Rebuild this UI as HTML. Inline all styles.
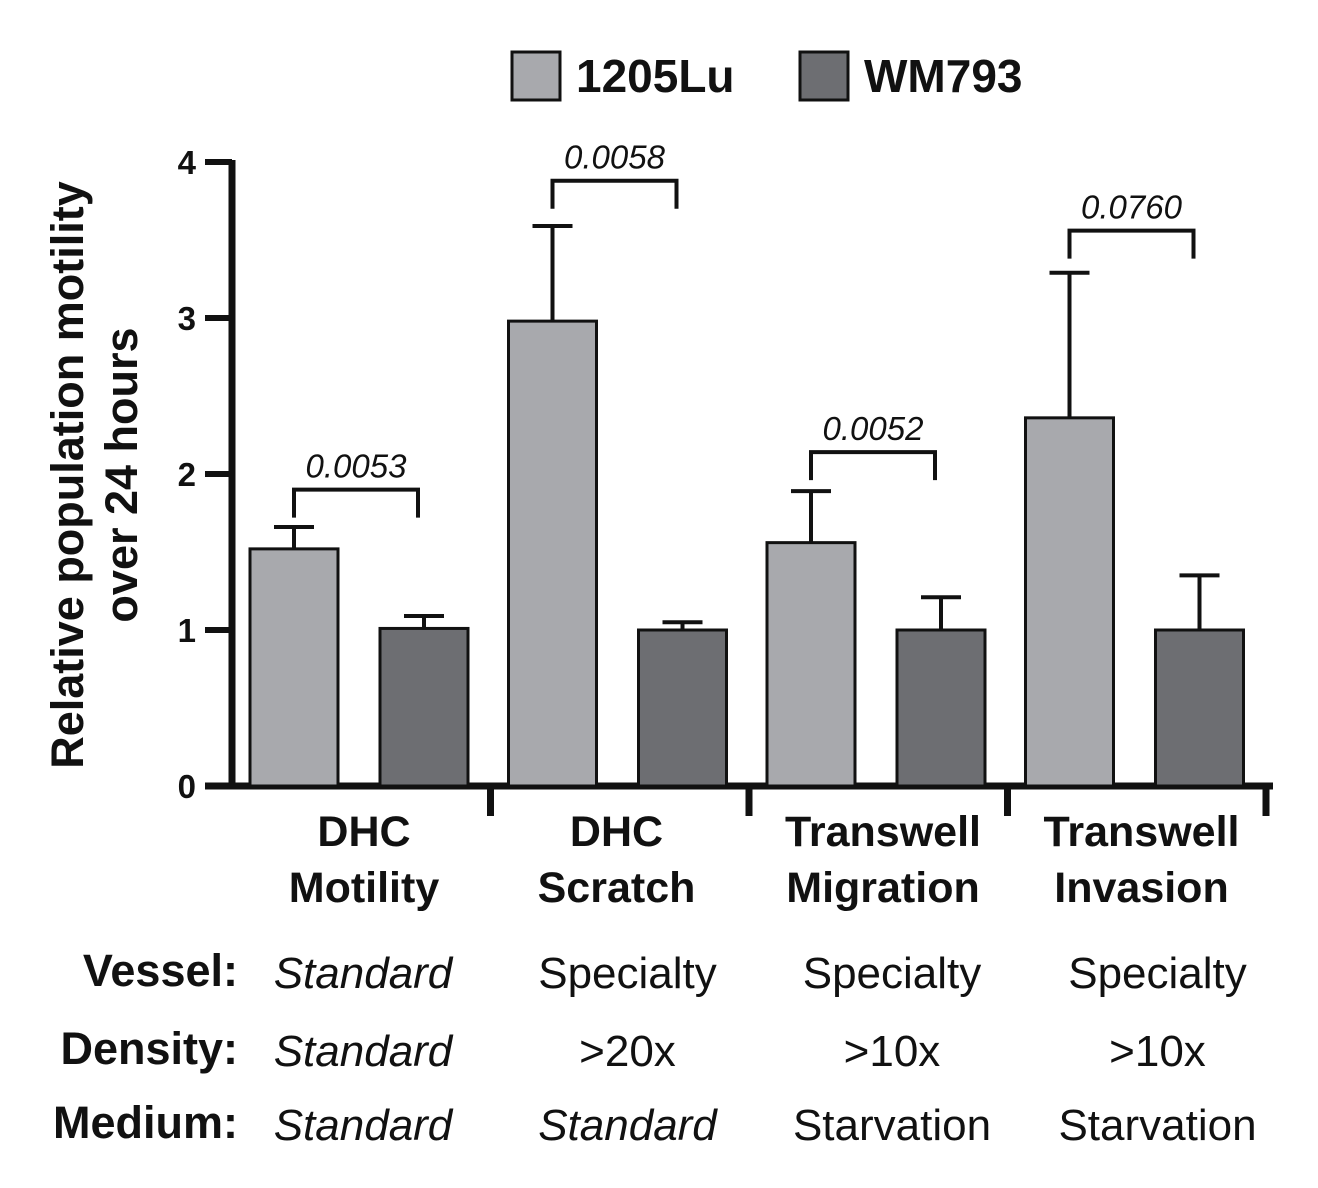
<!DOCTYPE html>
<html><head><meta charset="utf-8"><style>
html,body{margin:0;padding:0;background:#fff}
svg{display:block;font-family:"Liberation Sans",Arial,sans-serif}
</style></head><body>
<svg id="c" width="1318" height="1188" viewBox="0 0 1318 1188">
<g id="legend">
<rect x="512" y="52" width="48" height="48" fill="#a8a9ad" stroke="#111" stroke-width="3"/>
<text x="576" y="92" font-size="46" font-weight="bold" fill="#111">1205Lu</text>
<rect x="800" y="52" width="48" height="48" fill="#6d6e72" stroke="#111" stroke-width="3"/>
<text x="864" y="92" font-size="46" font-weight="bold" fill="#111">WM793</text>
</g>
<g transform="translate(95,475) rotate(-90)">
<text x="0" y="-12" text-anchor="middle" font-size="45" font-weight="bold" fill="#111">Relative population motility</text>
<text x="0" y="42" text-anchor="middle" font-size="45" font-weight="bold" fill="#111">over 24 hours</text>
</g>
<g id="plot"></g>
<g id="table"></g>
</svg>
<script>
const categories=["DHC|Motility","DHC|Scratch","Transwell|Migration","Transwell|Invasion"];
const lu1205=[1.52,2.98,1.56,2.36];
const lu1205Err=[0.14,0.61,0.33,0.93];
const wm793=[1.01,1.0,1.0,1.0];
const wm793Err=[0.08,0.05,0.21,0.35];
const pValues=["0.0053","0.0058","0.0052","0.0760"];
const bracketY=[1.9,3.88,2.14,3.56];
const yTicks=[0,1,2,3,4];
const vessel=["Standard","Specialty","Specialty","Specialty"];
const density=["Standard",">20x",">10x",">10x"];
const medium=["Standard","Standard","Starvation","Starvation"];
const italicV=[true,false,false,false],italicD=[true,false,false,false],italicM=[true,true,false,false];

const NS="http://www.w3.org/2000/svg";
const y0=786,yPer=156,gx0=232,gw=258.5;
const yS=v=>y0-v*yPer;
const gX=i=>gx0+i*gw;
const labelOff=[132,126,134,134];
const tableOff=[131,137,143,150];
const plot=document.getElementById('plot');
function mk(t,a,p){const e=document.createElementNS(NS,t);for(const k in a)e.setAttribute(k,a[k]);(p||plot).appendChild(e);return e;}
let ax=mk('line',{x1:gx0,y1:y0,x2:gx0,y2:yS(4)-2,stroke:'#111','stroke-width':7});


let xa=mk('line',{x1:205,y1:y0,x2:1273,y2:y0,stroke:'#111','stroke-width':7});


yTicks.forEach(t=>{
 const l=mk('line',{x1:205,y1:yS(t),x2:gx0,y2:yS(t),stroke:'#111','stroke-width':6});
 
 
 const tx=mk('text',{x:196,y:yS(t)+12,'text-anchor':'end','font-size':33,'font-weight':'bold',fill:'#111'});
 tx.textContent=t;
 
 
});
for(let i=1;i<=4;i++){
 const l=mk('line',{x1:gX(i),y1:y0,x2:gX(i),y2:816,stroke:'#111','stroke-width':7});
 
 
}
function bar(x,v,e,fill,name){
 const r=mk('rect',{x:x,y:yS(v),width:88,height:y0-yS(v),fill:fill,stroke:'#111','stroke-width':3});
 
 
 const cx=x+44;
 const p=mk('path',{d:`M${cx} ${yS(v)}V${yS(v+e)}M${cx-20} ${yS(v+e)}H${cx+20}`,stroke:'#111','stroke-width':4,fill:'none'});
 
 
}
categories.forEach((c,i)=>{
 const x=gX(i);
 bar(x+18,lu1205[i],lu1205Err[i],'#a8a9ad','bar-1205lu-'+i);
 bar(x+148,wm793[i],wm793Err[i],'#6d6e72','bar-wm793-'+i);
 const by=yS(bracketY[i]),lx=x+62,rx=x+186;
 const b=mk('path',{d:`M${lx} ${by+28}V${by}H${rx}V${by+28}`,stroke:'#111','stroke-width':4,fill:'none'});
 
 
 const pt=mk('text',{x:(lx+rx)/2,y:by-12,'text-anchor':'middle','font-size':33,'font-style':'italic',fill:'#111'});
 pt.textContent=pValues[i];
 
 
 const cx=x+labelOff[i];
 c.split('|').forEach((s,j)=>{
  const t=mk('text',{x:cx,y:846+j*56,'text-anchor':'middle','font-size':43,'font-weight':'bold',fill:'#111'});
  t.textContent=s;
  
  
 });
});
const tbl=document.getElementById('table');
[["Vessel:",vessel,italicV,988],["Density:",density,italicD,1066],["Medium:",medium,italicM,1140]].forEach(([h,vals,it,y])=>{
 const t=mk('text',{x:238,y:y-2,'text-anchor':'end','font-size':45,'font-weight':'bold',fill:'#111'},tbl);
 t.textContent=h;
 
 
 vals.forEach((v,i)=>{
  const a=mk('text',{x:gX(i)+tableOff[i],y:y,'text-anchor':'middle','font-size':44,fill:'#111'},tbl);
  if(it[i])a.setAttribute('font-style','italic');
  a.textContent=v;
  
  
 });
});
</script>
</body></html>
